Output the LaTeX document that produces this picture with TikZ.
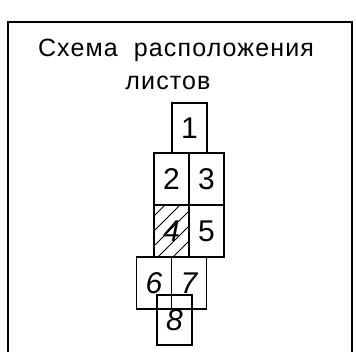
\documentclass[tikz,border=0pt]{standalone}
\usepackage{fontspec}
\setmainfont{Liberation Sans}
\usepackage{tikz}
\usetikzlibrary{calc}

\tikzset{
    sheet/.style={draw, line width=1.1pt, minimum width=35pt, minimum height=52pt,
        inner sep=0pt, font=\fontsize{30}{30}\selectfont},
    title/.style={anchor=base, inner sep=0pt,
        font=\fontsize{25}{25}\selectfont\addfontfeature{LetterSpace=4.5}}
}

\begin{document}
\begin{tikzpicture}[x=1pt, y=-1pt]
    \useasboundingbox (0,0) rectangle (356,352);
    % 1. Рамка
    \draw[line width=1.5pt] (8,352) -- (8,22) -- (352,22) -- (352,352);
    
    % 2. Заголовок
    \node[title] (t1) at (176,57) {Схема\ \ расположения};
    \node[title] (t2) at (168,90) {листов};
    
    % 3. Листы
    \node[sheet, minimum height=50pt] (s1) at (189.5,128) {1};
    \node[sheet] (s2) at (171.5,179) {2};
    \node[sheet] (s3) at (206.5,179) {3};
    \node[sheet] (s4) at (171.5,231) {};
    \node[sheet] (s5) at (206.5,231) {5};
    \node[sheet] (s6) at (154,283) {\itshape 6};
    \node[sheet] (s7) at (189,283) {\itshape 7};
    \node[sheet, minimum height=50pt] (s8) at (174.5,320) {\itshape 8};
    
    % 4. Штриховка листа 4
    \begin{scope}
        \clip (s4.south west) rectangle (s4.north east);
        \foreach \d in {-41,-26,...,34} {
            \draw[line width=0.8pt] ($(s4.south west)+(\d,0)$) -- ++(54,-54);
        }
    \end{scope}
    \node[sheet, draw=none] at (s4) {\itshape 4};
\end{tikzpicture}
\end{document}
